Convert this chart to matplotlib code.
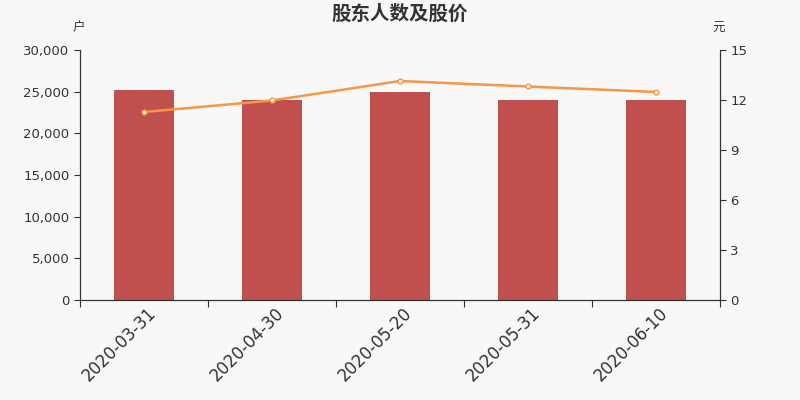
import numpy as np
import matplotlib.pyplot as plt
from matplotlib.ticker import FuncFormatter

plt.rcParams['font.family'] = ['DejaVu Sans', 'Noto Sans CJK SC']

# 数据
dates = ["2020-03-31", "2020-04-30", "2020-05-20", "2020-05-31", "2020-06-10"]
holders = [25260, 24000, 24960, 24000, 24000]
prices = [11.28, 11.97, 13.14, 12.81, 12.48]

bg = "#f8f8f8"
fig = plt.figure(figsize=(8, 4), dpi=100, facecolor=bg)
ax = fig.add_axes([0.1, 0.25, 0.8, 0.625], facecolor=bg)
x = np.arange(len(dates))

ax.bar(x, holders, width=0.47, color="#c0504d", zorder=2)
ax.set_xlim(-0.5, len(dates) - 0.5)
ax.set_ylim(0, 30000)
ax.set_yticks(np.arange(0, 30001, 5000))
ax.yaxis.set_major_formatter(FuncFormatter(lambda v, p: "{:,.0f}".format(v)))

# ticks aux frontières, libellés au centre
ax.set_xticks(np.arange(-0.5, len(dates), 1))
ax.set_xticklabels([])
ax.set_xticks(x + 0.02, minor=True)
ax.set_xticklabels(dates, minor=True, rotation=45, ha="right",
                   rotation_mode="anchor", fontsize=12, color="#333333")
ax.tick_params(axis="x", which="minor", length=0, pad=3)
ax.tick_params(axis="x", which="major", length=5, color="#333333")
ax.tick_params(axis="y", labelsize=9.5, colors="#333333", length=4)

ax2 = ax.twinx()
ax2.plot(x, prices, color="#f79646", lw=1.8, marker="o", ms=3.5,
         mfc="white", mec="#f79646", mew=1, zorder=3)
ax2.set_ylim(0, 15)
ax2.set_yticks(np.arange(0, 16, 3))
ax2.tick_params(axis="y", labelsize=9.5, colors="#333333", length=4)

for a in (ax, ax2):
	a.spines["top"].set_visible(False)
	for s in ("left", "right", "bottom"):
		a.spines[s].set_color("#333333")

# titre et unités
cjk = ['Noto Sans CJK SC', 'DejaVu Sans']
fig.text(0.5, 0.965, "股东人数及股价", ha="center", va="center",
         fontsize=14, fontweight="bold", color="#333333", family=cjk)
fig.text(0.098, 0.93, "户", ha="center", va="center", fontsize=9, color="#333333", family=cjk)
fig.text(0.898, 0.93, "元", ha="center", va="center", fontsize=9, color="#333333", family=cjk)

plt.savefig("out.png", facecolor=bg)
